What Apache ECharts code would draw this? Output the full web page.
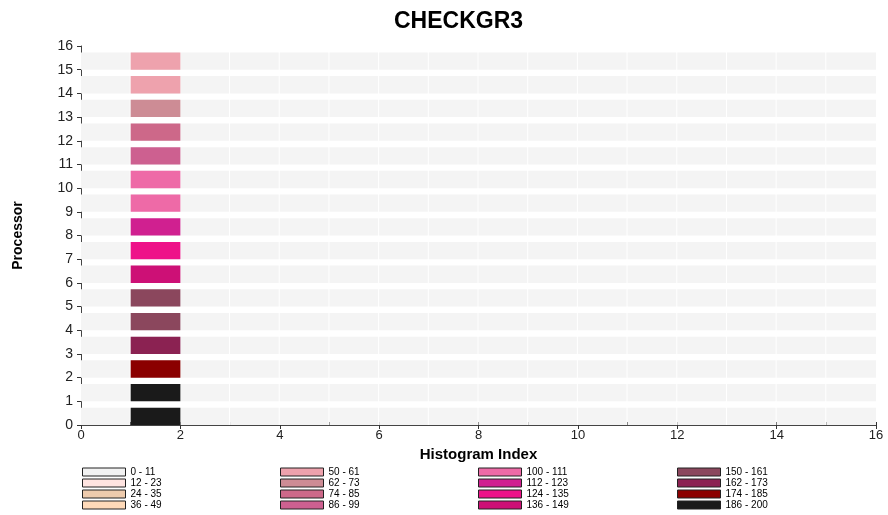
<!DOCTYPE html>
<html><head><meta charset="utf-8">
<script src="https://cdn.jsdelivr.net/npm/echarts@6/dist/echarts.min.js"></script>
<style>html,body{margin:0;padding:0;background:#fff}#c{width:888px;height:515px}</style>
</head><body><div id="c"></div><script>
// ---- data ----
const processors = [0,1,2,3,4,5,6,7,8,9,10,11,12,13,14,15];
const histStart  = [1,1,1,1,1,1,1,1,1,1,1,1,1,1,1,1];
const histEnd    = [2,2,2,2,2,2,2,2,2,2,2,2,2,2,2,2];
const values     = [193,190,180,168,155,155,142,130,118,105,105,92,80,68,55,55];
const rangeLabels = ['0 - 11','12 - 23','24 - 35','36 - 49','50 - 61','62 - 73','74 - 85','86 - 99',
                     '100 - 111','112 - 123','124 - 135','136 - 149','150 - 161','162 - 173','174 - 185','186 - 200'];
const rangeMax    = [11,23,35,49,61,73,85,99,111,123,135,149,161,173,185,200];
const rangeColors = ['#f2f2f2','#ffe4e1','#eecbad','#ffdab9','#eea2ad','#cd8c95','#cd6889','#cd6090',
                     '#ee6aa7','#d02090','#ee1289','#cd1076','#8b475d','#8b2252','#8b0000','#1a1a1a'];
const histIndices = [0,1,2,3,4,5,6,7,8,9,10,11,12,13,14,15];
const xMin = 0, xMax = 16, yMin = 0, yMax = 16;
const rowFill = 0.73;

function colorFor(v){ for (let i=0;i<rangeMax.length;i++) if (v<=rangeMax[i]) return rangeColors[i]; return rangeColors[rangeColors.length-1]; }

const bandData = [];
processors.forEach(p => histIndices.forEach(h => bandData.push([h, p])));
const barData = processors.map((p,i) => [histStart[i], histEnd[i], p, values[i]]);

const chart = echarts.init(document.getElementById('c'));
const FF = 'Liberation Sans, Arial, sans-serif';
const legendCols = [0,1,2,3].map(c => ({
  data: rangeLabels.slice(c*4, c*4+4),
  orient:'vertical', left: [82,280,478,677][c], top: 467,
  icon:'rect', itemWidth:43, itemHeight:8, itemGap:1, padding:0,
  itemStyle:{borderColor:'#222', borderWidth:1},
  textStyle:{fontFamily:FF, fontSize:10, color:'#000', lineHeight:10, padding:[0,0,0,0]},
  selectedMode:false
}));

chart.setOption({
  animation:false,
  title:{text:'CHECKGR3', left:389, top:5, textStyle:{fontFamily:FF, fontWeight:'bold', fontSize:23, color:'#000'}},
  grid:{left:81, right:12, top:46, bottom:90},
  legend: legendCols,
  xAxis:[{
    type:'value', min:xMin, max:xMax, interval:2,
    name:'Histogram Index', nameLocation:'middle', nameGap:22,
    nameTextStyle:{fontFamily:FF, fontWeight:'bold', fontSize:15, color:'#000'},
    axisLine:{show:true, lineStyle:{color:'#444', width:1}},
    axisTick:{show:true, length:4, lineStyle:{color:'#333'}},
    axisLabel:{fontFamily:FF, fontSize:13, color:'#222', margin:4},
    splitLine:{show:false}
  },{
    type:'value', min:xMin, max:xMax, interval:1, position:'bottom',
    axisLine:{show:false}, axisTick:{show:true, inside:true, length:3, lineStyle:{color:'#333'}},
    axisLabel:{show:false}, splitLine:{show:false}
  }],
  yAxis:{
    type:'value', min:yMin, max:yMax, interval:1,
    name:'Processor', nameLocation:'middle', nameGap:56, nameRotate:90,
    nameTextStyle:{fontFamily:FF, fontWeight:'bold', fontSize:14, color:'#000'},
    axisLine:{show:true, lineStyle:{color:'#444', width:1}},
    axisTick:{show:true, length:4, lineStyle:{color:'#333'}},
    axisLabel:{fontFamily:FF, fontSize:14, color:'#222', margin:8},
    splitLine:{show:false}
  },
  series:[
    {
      type:'custom', silent:true, z:1,
      renderItem:(params, api) => {
        const h = api.value(0), p = api.value(1);
        const a = api.coord([h, p + rowFill]);
        const b = api.coord([h + 1, p]);
        const gap = (h + 1 < xMax) ? 1 : 0;
        return {type:'rect', shape:{x:a[0], y:a[1], width:b[0]-a[0]-gap, height:b[1]-a[1]}, style:{fill:'#f4f4f4'}};
      },
      data: bandData
    },
    {
      type:'custom', silent:true, z:3,
      renderItem:(params, api) => {
        const s = api.value(0), e = api.value(1), p = api.value(2), v = api.value(3);
        const a = api.coord([s, p + rowFill]);
        const b = api.coord([e, p]);
        return {type:'rect', shape:{x:a[0], y:a[1], width:b[0]-a[0], height:b[1]-a[1]}, style:{fill:colorFor(v)}};
      },
      data: barData
    },
    ...rangeLabels.map((lab, i) => ({type:'bar', name:lab, data:[], itemStyle:{color:rangeColors[i]}}))
  ]
});
</script></body></html>
